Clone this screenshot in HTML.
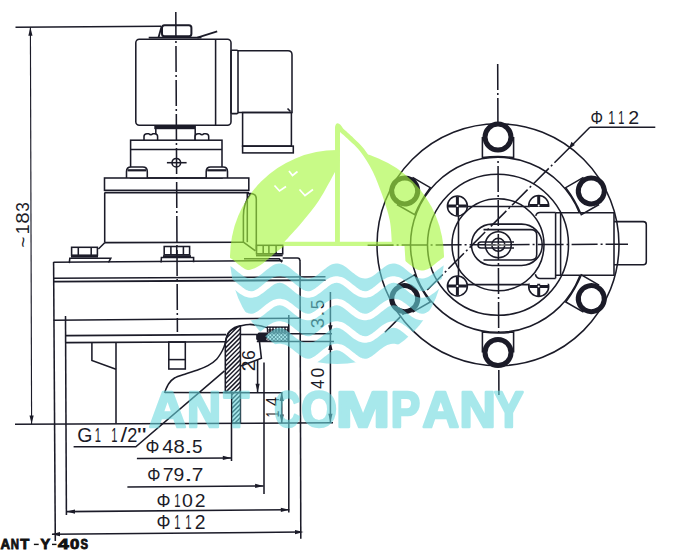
<!DOCTYPE html>
<html><head><meta charset="utf-8"><style>
html,body{margin:0;padding:0;background:#fff;overflow:hidden;}
svg{display:block;}
text{font-family:"Liberation Sans",sans-serif;fill:#1b1b28;}
</style></head><body>
<svg width="674" height="552" viewBox="0 0 674 552">
<defs>
<pattern id="dots" patternUnits="userSpaceOnUse" width="3" height="3"><rect width="3" height="3" fill="#1b1b28"/><circle cx="1.5" cy="1.5" r="0.9" fill="#fff"/></pattern>
<pattern id="xh" patternUnits="userSpaceOnUse" width="2.6" height="2.6" patternTransform="rotate(45)"><rect width="2.6" height="2.6" fill="#fff"/><path d="M0,0 L0,2.6 M0,0 L2.6,0" stroke="#1b1b28" stroke-width="1.3"/></pattern>
<pattern id="hatch" patternUnits="userSpaceOnUse" width="2.4" height="2.4" patternTransform="rotate(45)">
<rect width="2.4" height="2.4" fill="#fff"/><line x1="0.6" y1="0" x2="0.6" y2="2.4" stroke="#1b1b28" stroke-width="1.2"/>
</pattern>
</defs>
<rect width="674" height="552" fill="#fff"/>
<g fill="none" stroke="#1b1b28" stroke-width="1.55">
<line x1="15.5" y1="27.3" x2="161.0" y2="26.3"/>
<line x1="30.4" y1="27.0" x2="31.6" y2="424.0" stroke-width="1.15"/>
<polygon points="30.4,27.3 28.3,35.8 32.5,35.8" fill="#1b1b28" stroke="none"/>
<polygon points="31.6,424.0 29.5,415.5 33.7,415.5" fill="#1b1b28" stroke="none"/>
<line x1="15.0" y1="424.3" x2="333.0" y2="422.8"/>
<line x1="175.8" y1="12.0" x2="177.4" y2="332.0" stroke-dasharray="26 3 2 3"/>
<rect x="162" y="25.2" width="29.4" height="11" rx="2.5" stroke-width="2"/>
<line x1="158.5" y1="37.6" x2="161.6" y2="26.5" stroke-width="1.8"/>
<line x1="148.7" y1="37.6" x2="201.4" y2="37.6" stroke-width="1.8"/>
<line x1="197.4" y1="37.6" x2="217.2" y2="31.4" stroke-width="1.8"/>
<rect x="135.8" y="39.2" width="95.2" height="86" rx="3.5"/>
<line x1="215.6" y1="39.2" x2="215.6" y2="125.2"/>
<rect x="231" y="50.3" width="7" height="63.3" rx="1"/>
<path d="M238,50.8 L288,50.8 Q292,50.8 292,54.8 L292,112.5 L238,112.5"/>
<rect x="242.6" y="112.5" width="48.8" height="33.6"/>
<rect x="242.6" y="146.1" width="50.7" height="6.8"/>
<line x1="287.5" y1="108.5" x2="290.5" y2="111.5"/>
<rect x="154.3" y="125.4" width="41.6" height="3.8" fill="#1b1b28" stroke="none"/>
<line x1="155.8" y1="129.0" x2="155.8" y2="140.2"/>
<line x1="195.2" y1="129.0" x2="195.2" y2="140.2"/>
<path d="M144.0,140.2 L144.0,136.6 Q144.0,133.7 147.0,133.7 L148.8,133.7 Q150.8,135.6 152.8,133.7 L154.6,133.7 Q157.6,133.7 157.6,136.6 L157.6,140.2" fill="#fff"/>
<path d="M195.1,140.2 L195.1,136.6 Q195.1,133.7 198.1,133.7 L199.9,133.7 Q201.9,135.6 203.9,133.7 L205.7,133.7 Q208.7,133.7 208.7,136.6 L208.7,140.2" fill="#fff"/>
<rect x="130.6" y="140.2" width="91.4" height="37.8"/>
<line x1="130.6" y1="149.4" x2="222.0" y2="149.4"/>
<circle cx="176.3" cy="162.7" r="4.3"/>
<line x1="166.9" y1="162.7" x2="186.6" y2="162.7"/>
<path d="M126.5,178 L126.5,171.5 Q126.5,167 131.0,167 L142.8,167 Q147.3,167 147.3,171.5 L147.3,178" fill="#fff"/>
<line x1="127.5" y1="170.3" x2="146.3" y2="170.3" stroke-width="2.2"/>
<path d="M206.2,178 L206.2,171.5 Q206.2,167 210.7,167 L223.0,167 Q227.5,167 227.5,171.5 L227.5,178" fill="#fff"/>
<line x1="207.2" y1="170.3" x2="226.5" y2="170.3" stroke-width="2.2"/>
<rect x="104.5" y="178" width="144.3" height="12.3"/>
<line x1="104.5" y1="192.6" x2="249.0" y2="192.6"/>
<line x1="104.7" y1="192.6" x2="104.7" y2="242.7"/>
<line x1="247.3" y1="192.6" x2="247.3" y2="242.2"/>
<line x1="104.7" y1="242.6" x2="243.4" y2="242.2"/>
<line x1="104.7" y1="242.7" x2="98.4" y2="249.0"/>
<path d="M247.3,193.6 L251,193.6 Q256.3,194 256.3,199 L256.3,251"/>
<path d="M250.5,194 Q243.2,204 243.4,216 L243.4,242.2 L255.4,250.8"/>
<rect x="71.6" y="247.3" width="25.8" height="7.9"/>
<line x1="78.3" y1="247.3" x2="78.3" y2="255.2"/>
<line x1="91.2" y1="247.3" x2="91.2" y2="255.2"/>
<line x1="71.0" y1="256.6" x2="98.0" y2="256.6" stroke-width="2"/>
<path d="M69.3,263.2 L69.8,258.2 L110.8,258.2 L108.5,262.5"/>
<rect x="164.2" y="246.5" width="25.4" height="8.3"/>
<line x1="170.9" y1="246.5" x2="170.9" y2="254.8"/>
<line x1="176.7" y1="246.5" x2="176.7" y2="254.8"/>
<line x1="183.4" y1="246.5" x2="183.4" y2="254.8"/>
<line x1="163.0" y1="256.2" x2="191.0" y2="256.2" stroke-width="2"/>
<path d="M161.1,262.5 L161.4,257.4 L193.6,257.4 L193.6,262.3"/>
<rect x="256.5" y="245.3" width="26.2" height="8.5"/>
<line x1="263.2" y1="245.3" x2="263.2" y2="253.8"/>
<line x1="268.9" y1="245.3" x2="268.9" y2="253.8"/>
<line x1="276.1" y1="245.3" x2="276.1" y2="253.8"/>
<line x1="256.0" y1="255.4" x2="282.7" y2="255.4" stroke-width="2"/>
<path d="M244,258.8 L279.2,258.8 L282,262.2"/>
<line x1="53.5" y1="262.3" x2="282.7" y2="260.6"/>
<path d="M282.7,258 L297.5,258 Q299.8,258 299.8,260.5"/>
<line x1="53.6" y1="262.0" x2="55.3" y2="541.0"/>
<line x1="300.0" y1="260.0" x2="300.8" y2="538.8"/>
<line x1="53.5" y1="278.3" x2="325.5" y2="276.8"/>
<line x1="53.5" y1="281.6" x2="325.5" y2="280.1" stroke-width="1.8"/>
<line x1="53.5" y1="320.2" x2="300.6" y2="318.2"/>
<line x1="66.0" y1="335.6" x2="226.0" y2="334.6"/>
<line x1="66.0" y1="342.6" x2="226.0" y2="341.8"/>
<line x1="65.5" y1="316.0" x2="66.4" y2="515.0"/>
<path d="M91.9,342.5 L91.9,360.5 L116,369.3"/>
<line x1="116.0" y1="342.5" x2="116.0" y2="423.8"/>
<rect x="168.8" y="342" width="16.5" height="27"/>
<line x1="168.8" y1="359.6" x2="185.3" y2="359.6"/>
<path d="M164.40,392.80 C165.12,391.30 167.02,386.27 168.70,383.80 C170.38,381.33 171.60,379.68 174.50,378.00 C177.40,376.32 182.23,375.03 186.10,373.70 C189.97,372.37 194.07,371.33 197.70,370.00 C201.33,368.67 204.75,367.50 207.90,365.70 C211.05,363.90 214.18,361.73 216.60,359.20 C219.02,356.67 220.95,353.17 222.40,350.50 C223.85,347.83 224.58,345.38 225.30,343.20 C226.02,341.02 225.98,339.33 226.70,337.40 C227.42,335.47 228.15,333.17 229.60,331.60 C231.05,330.03 233.47,328.97 235.40,328.00 C237.33,327.03 238.83,326.40 241.20,325.80 C243.57,325.20 246.75,324.43 249.60,324.40 C252.45,324.37 255.33,325.07 258.30,325.60 C261.27,326.13 265.88,327.27 267.40,327.60"/>
<line x1="165.0" y1="392.5" x2="282.5" y2="392.8"/>
<clipPath id="hc"><path d="M240.4,325.8 L240.4,423 L231.7,423 L231.7,392.5 L225.3,392.5 L225.3,343.2 C225.8,338 227.5,333 230,331 C232.5,328.5 236,326.5 240.4,325.8 Z"/></clipPath>
<path d="M220,300.00 L250,270.00 M220,304.45 L250,274.45 M220,308.90 L250,278.90 M220,313.35 L250,283.35 M220,317.80 L250,287.80 M220,322.25 L250,292.25 M220,326.70 L250,296.70 M220,331.15 L250,301.15 M220,335.60 L250,305.60 M220,340.05 L250,310.05 M220,344.50 L250,314.50 M220,348.95 L250,318.95 M220,353.40 L250,323.40 M220,357.85 L250,327.85 M220,362.30 L250,332.30 M220,366.75 L250,336.75 M220,371.20 L250,341.20 M220,375.65 L250,345.65 M220,380.10 L250,350.10 M220,384.55 L250,354.55 M220,389.00 L250,359.00 M220,393.45 L250,363.45 M220,397.90 L250,367.90 M220,402.35 L250,372.35 M220,406.80 L250,376.80 M220,411.25 L250,381.25 M220,415.70 L250,385.70 M220,420.15 L250,390.15 M220,424.60 L250,394.60 M220,429.05 L250,399.05 M220,433.50 L250,403.50 M220,437.95 L250,407.95 M220,442.40 L250,412.40 M220,446.85 L250,416.85" stroke-width="1.45" clip-path="url(#hc)"/>
<path d="M240.4,325.8 L240.4,423 L231.7,423 L231.7,392.5 L225.3,392.5 L225.3,343.2 C225.8,338 227.5,333 230,331 C232.5,328.5 236,326.5 240.4,325.8 Z"/>
<line x1="240.4" y1="334.5" x2="257.0" y2="334.5"/>
<rect x="267.4" y="327" width="20.8" height="5" fill="url(#dots)" stroke-width="1.2"/>
<path d="M259,333 L288.2,333 L288.2,341.3 L259,341.3 L256.8,339 L256.8,335 Z" fill="url(#xh)" stroke-width="1.2"/>
<path d="M259,333 L268,333 L266,341.3 L259,341.3 L256.8,339 L256.8,335 Z" fill="#1b1b28" stroke="none"/>
<line x1="288.2" y1="333.8" x2="332.0" y2="333.8"/>
<line x1="256.8" y1="341.5" x2="334.0" y2="341.5"/>
<path d="M259.5,341.8 L261.4,358.3 L240.7,366"/>
<line x1="288.8" y1="315.0" x2="288.8" y2="512.5"/>
<line x1="264.0" y1="362.5" x2="264.0" y2="494.0"/>
<line x1="231.5" y1="423.0" x2="231.5" y2="461.0"/>
<line x1="257.6" y1="360.0" x2="257.6" y2="392.0"/>
<polygon points="257.6,392.3 255.5,383.8 259.7,383.8" fill="#1b1b28" stroke="none"/>
<line x1="281.7" y1="392.3" x2="281.7" y2="423.0"/>
<polygon points="281.7,392.5 279.6,401.0 283.8,401.0" fill="#1b1b28" stroke="none"/>
<polygon points="281.7,423.0 279.6,414.5 283.8,414.5" fill="#1b1b28" stroke="none"/>
<line x1="330.4" y1="292.0" x2="330.4" y2="422.5"/>
<polygon points="330.4,333.8 328.3,325.3 332.5,325.3" fill="#1b1b28" stroke="none"/>
<polygon points="330.4,341.5 328.3,350.0 332.5,350.0" fill="#1b1b28" stroke="none"/>
<polygon points="330.4,422.3 328.3,413.8 332.5,413.8" fill="#1b1b28" stroke="none"/>
<path d="M73.6,446.8 L135.8,446.8 L224.5,370.8"/>
<line x1="136.9" y1="458.5" x2="231.3" y2="457.9"/>
<polygon points="231.3,457.9 222.8,455.8 222.8,460.0" fill="#1b1b28" stroke="none"/>
<line x1="127.4" y1="486.9" x2="263.6" y2="485.9"/>
<polygon points="263.6,485.9 255.1,483.8 255.1,488.0" fill="#1b1b28" stroke="none"/>
<line x1="66.3" y1="511.6" x2="289.3" y2="509.8"/>
<polygon points="66.5,511.6 75.0,509.5 75.0,513.7" fill="#1b1b28" stroke="none"/>
<polygon points="289.3,509.8 280.8,507.7 280.8,511.9" fill="#1b1b28" stroke="none"/>
<line x1="52.0" y1="534.2" x2="301.0" y2="532.1"/>
<polygon points="51.5,534.2 60.0,532.1 60.0,536.3" fill="#1b1b28" stroke="none"/>
<polygon points="303.5,532.1 295.0,530.0 295.0,534.2" fill="#1b1b28" stroke="none"/>
<line x1="497.7" y1="64.0" x2="498.9" y2="395.0" stroke-dasharray="26 3 2 3"/>
<line x1="367.6" y1="245.2" x2="628.0" y2="244.2" stroke-dasharray="26 3 2 3"/>
<line x1="589.9" y1="127.3" x2="570.0" y2="147.2"/>
<line x1="570" y1="147.2" x2="385" y2="332.2" stroke-dasharray="22 3 2 3"/>
<polygon points="568.5,149.2 571.5,141.8 574.8,145.1" fill="#1b1b28" stroke="none"/>
<line x1="589.9" y1="127.3" x2="655.3" y2="127.3"/>
<clipPath id="cc"><path d="M0,0 H674 V552 H0 Z M555.4,213 V275.5 H614 V213 Z" clip-rule="evenodd"/></clipPath>
<circle cx="498.0" cy="244.8" r="121.0"/>
<circle cx="498.0" cy="244.8" r="87.5" clip-path="url(#cc)"/>
<circle cx="498.0" cy="244.8" r="70.5"/>
<circle cx="498.0" cy="244.8" r="46.0"/>
<g transform="translate(498.00,137.10) rotate(0.00)">
<path d="M-15.6,0 L-15.6,20.5 Q0,18.5 15.6,20.5 L15.6,0" fill="#fff"/>
<circle cx="0" cy="0" r="13" stroke-width="5" fill="#fff"/>
</g>
<g transform="translate(404.73,190.95) rotate(-60.00)">
<path d="M-15.6,0 L-15.6,20.5 Q0,18.5 15.6,20.5 L15.6,0" fill="#fff"/>
<circle cx="0" cy="0" r="13" stroke-width="5" fill="#fff"/>
</g>
<g transform="translate(404.73,298.65) rotate(-120.00)">
<path d="M-15.6,0 L-15.6,20.5 Q0,18.5 15.6,20.5 L15.6,0" fill="#fff"/>
<circle cx="0" cy="0" r="13" stroke-width="5" fill="#fff"/>
</g>
<g transform="translate(498.00,352.50) rotate(-180.00)">
<path d="M-15.6,0 L-15.6,20.5 Q0,18.5 15.6,20.5 L15.6,0" fill="#fff"/>
<circle cx="0" cy="0" r="13" stroke-width="5" fill="#fff"/>
</g>
<g transform="translate(591.27,298.65) rotate(-240.00)">
<path d="M-15.6,0 L-15.6,20.5 Q0,18.5 15.6,20.5 L15.6,0" fill="#fff"/>
<circle cx="0" cy="0" r="13" stroke-width="5" fill="#fff"/>
</g>
<g transform="translate(591.27,190.95) rotate(60.00)">
<path d="M-15.6,0 L-15.6,20.5 Q0,18.5 15.6,20.5 L15.6,0" fill="#fff"/>
<circle cx="0" cy="0" r="13" stroke-width="5" fill="#fff"/>
</g>
<path d="M467,206.4 L530,206.4 M458.5,214 L458.5,277 M467,284.6 L530,284.6"/>
<path d="M555.6,212.8 L614,212.8 L614,275.3 L555.6,275.3"/>
<line x1="555.6" y1="212.5" x2="555.6" y2="278.4"/>
<line x1="560.6" y1="212.8" x2="560.6" y2="275.3"/>
<path d="M614,221.6 L643.3,221.6 Q646.3,221.6 646.3,224.6 L646.3,261.7 Q646.3,264.7 643.3,264.7 L614,264.7"/>
<rect x="471.5" y="224.1" width="70.7" height="41.3" rx="20.6"/>
<path d="M483.5,229.6 L531,229.6 Q536.7,229.6 536.7,235 L536.7,254.6 Q536.7,260 531,260 L483.5,260"/>
<circle cx="498.3" cy="244.8" r="13"/>
<circle cx="498.3" cy="244.8" r="6.5"/>
<path d="M514,242 L481,242 Q478,242 478,245 Q478,248 481,248 L514,248"/>
<line x1="486.0" y1="245.0" x2="510.0" y2="245.0" stroke="#777" stroke-width="1.5"/>
<clipPath id="scu"><rect x="520" y="180" width="40" height="27"/></clipPath>
<clipPath id="scd"><rect x="520" y="283.8" width="40" height="30"/></clipPath>
<g>
<circle cx="457.4" cy="206.0" r="10" fill="#fff"/>
<path d="M447.9,206.0 L466.9,206.0 M457.4,196.5 L457.4,215.5" stroke-width="3"/>
<circle cx="457.4" cy="206.0" r="1" fill="#fff" stroke="none"/>
</g>
<g clip-path="url(#scu)">
<circle cx="538.7" cy="205.5" r="10" fill="#fff"/>
<path d="M529.2,205.5 L548.2,205.5 M538.7,196.0 L538.7,215.0" stroke-width="3"/>
<circle cx="538.7" cy="205.5" r="1" fill="#fff" stroke="none"/>
</g>
<g>
<circle cx="457.4" cy="286.0" r="10" fill="#fff"/>
<path d="M447.9,286.0 L466.9,286.0 M457.4,276.5 L457.4,295.5" stroke-width="3"/>
<circle cx="457.4" cy="286.0" r="1" fill="#fff" stroke="none"/>
</g>
<g clip-path="url(#scd)">
<circle cx="538.7" cy="286.5" r="10" fill="#fff"/>
<path d="M529.2,286.5 L548.2,286.5 M538.7,277.0 L538.7,296.0" stroke-width="3"/>
<circle cx="538.7" cy="286.5" r="1" fill="#fff" stroke="none"/>
</g>
<path d="M535.8,215.8 Q536.5,212.5 540,212.5 L555.6,212.5"/>
<path d="M535.3,274.2 Q536.5,278.4 540,278.4 L555.6,278.4"/>
</g>
<text transform="translate(77.13,442.20) scale(1.0040,1)" font-size="19.40">G</text>
<text transform="translate(94.65,442.20) scale(0.5754,1)" font-size="19.40">1</text>
<text transform="translate(111.25,442.20) scale(0.5754,1)" font-size="19.40">1</text>
<text transform="translate(120.40,442.20) scale(1.2282,1)" font-size="19.40">/</text>
<text transform="translate(127.29,442.20) scale(0.9403,1)" font-size="19.40">2</text>
<text transform="translate(137.04,442.20) scale(1.3848,1)" font-size="19.40">&quot;</text>
<text transform="translate(145.51,453.40) scale(0.9170,1)" font-size="19.00">Φ</text>
<text transform="translate(162.14,453.40) scale(1.0464,1)" font-size="19.00">4</text>
<text transform="translate(173.53,453.40) scale(1.0661,1)" font-size="19.00">8</text>
<text transform="translate(184.03,453.40) scale(1.6620,1)" font-size="19.00">.</text>
<text transform="translate(192.05,453.40) scale(0.9903,1)" font-size="19.00">5</text>
<text transform="translate(147.36,481.30) scale(0.8708,1)" font-size="19.00">Φ</text>
<text transform="translate(162.70,481.30) scale(1.0318,1)" font-size="19.00">7</text>
<text transform="translate(173.49,481.30) scale(1.0161,1)" font-size="19.00">9</text>
<text transform="translate(184.03,481.30) scale(1.6620,1)" font-size="19.00">.</text>
<text transform="translate(191.73,481.30) scale(1.1013,1)" font-size="19.00">7</text>
<text transform="translate(156.60,506.60) scale(0.9151,1)" font-size="19.20">Φ</text>
<text transform="translate(174.35,506.60) scale(0.5814,1)" font-size="19.20">1</text>
<text transform="translate(182.04,506.60) scale(1.0155,1)" font-size="19.20">0</text>
<text transform="translate(194.73,506.60) scale(1.0073,1)" font-size="19.20">2</text>
<text transform="translate(156.60,529.00) scale(0.9056,1)" font-size="19.40">Φ</text>
<text transform="translate(174.35,529.00) scale(0.5754,1)" font-size="19.40">1</text>
<text transform="translate(185.13,529.00) scale(0.5874,1)" font-size="19.40">1</text>
<text transform="translate(194.73,529.00) scale(0.9969,1)" font-size="19.40">2</text>
<text transform="translate(590.41,124.20) scale(0.8245,1)" font-size="19.00">Φ</text>
<text transform="translate(608.16,124.20) scale(0.6487,1)" font-size="19.00">1</text>
<text transform="translate(618.37,124.20) scale(0.5753,1)" font-size="19.00">1</text>
<text transform="translate(628.32,124.20) scale(1.0295,1)" font-size="19.00">2</text>
<text transform="translate(28.75,246.70) rotate(-90) scale(0.9715,1)" x="-0.85" font-size="19.00">~</text>
<text transform="translate(28.75,233.00) rotate(-90) scale(0.9302,1)" x="-1.44" font-size="19.00">1</text>
<text transform="translate(28.75,222.90) rotate(-90) scale(1.0885,1)" x="-0.82" font-size="19.00">8</text>
<text transform="translate(28.75,211.20) rotate(-90) scale(0.9013,1)" x="-0.72" font-size="19.00">3</text>
<text transform="translate(323.90,327.50) rotate(-90) scale(0.9580,1)" x="-0.73" font-size="19.20">3</text>
<text transform="translate(323.90,314.80) rotate(-90) scale(1.2061,1)" x="-1.75" font-size="19.20">.</text>
<text transform="translate(323.90,308.70) rotate(-90) scale(0.8809,1)" x="-0.77" font-size="19.20">5</text>
<text transform="translate(324.30,388.60) rotate(-90) scale(0.8594,1)" x="-0.44" font-size="19.20">4</text>
<text transform="translate(324.30,376.70) rotate(-90) scale(0.9172,1)" x="-0.75" font-size="19.20">0</text>
<text transform="translate(254.90,370.30) rotate(-90) scale(1.0171,1)" x="-0.94" font-size="18.80">2</text>
<text transform="translate(254.90,359.00) rotate(-90) scale(0.9482,1)" x="-0.96" font-size="18.80">6</text>
<text transform="translate(279.40,416.70) rotate(-90) scale(0.6794,1)" x="-1.35" font-size="17.80">1</text>
<text transform="translate(279.40,405.70) rotate(-90) scale(0.9159,1)" x="-0.41" font-size="17.80">4</text>

<defs>
<clipPath id="lc"><circle cx="337.0" cy="257.0" r="107.0"/></clipPath>
<mask id="cm" maskUnits="userSpaceOnUse" x="0" y="0" width="674" height="552">
  <rect x="0" y="0" width="674" height="552" fill="#000"/>
  <path d="M225.0,263.8 L226.5,264.2 L228.0,264.8 L229.5,265.6 L231.0,266.6 L232.5,267.6 L234.0,268.8 L235.5,270.0 L237.0,271.2 L238.5,272.4 L240.0,273.6 L241.5,274.8 L243.0,275.8 L244.5,276.7 L246.0,277.4 L247.5,277.9 L249.0,278.3 L250.5,278.5 L252.0,278.5 L253.5,278.2 L255.0,277.8 L256.5,277.2 L258.0,276.4 L259.5,275.4 L261.0,274.4 L262.5,273.2 L264.0,272.0 L265.5,270.8 L267.0,269.6 L268.5,268.4 L270.0,267.2 L271.5,266.2 L273.0,265.3 L274.5,264.6 L276.0,264.1 L277.5,263.7 L279.0,263.5 L280.5,263.5 L282.0,263.8 L283.5,264.2 L285.0,264.8 L286.5,265.6 L288.0,266.6 L289.5,267.6 L291.0,268.8 L292.5,270.0 L294.0,271.2 L295.5,272.4 L297.0,273.6 L298.5,274.8 L300.0,275.8 L301.5,276.7 L303.0,277.4 L304.5,277.9 L306.0,278.3 L307.5,278.5 L309.0,278.5 L310.5,278.2 L312.0,277.8 L313.5,277.2 L315.0,276.4 L316.5,275.4 L318.0,274.4 L319.5,273.2 L321.0,272.0 L322.5,270.8 L324.0,269.6 L325.5,268.4 L327.0,267.2 L328.5,266.2 L330.0,265.3 L331.5,264.6 L333.0,264.1 L334.5,263.7 L336.0,263.5 L337.5,263.5 L339.0,263.8 L340.5,264.2 L342.0,264.8 L343.5,265.6 L345.0,266.6 L346.5,267.6 L348.0,268.8 L349.5,270.0 L351.0,271.2 L352.5,272.4 L354.0,273.6 L355.5,274.8 L357.0,275.8 L358.5,276.7 L360.0,277.4 L361.5,277.9 L363.0,278.3 L364.5,278.5 L366.0,278.5 L367.5,278.2 L369.0,277.8 L370.5,277.2 L372.0,276.4 L373.5,275.4 L375.0,274.4 L376.5,273.2 L378.0,272.0 L379.5,270.8 L381.0,269.6 L382.5,268.4 L384.0,267.2 L385.5,266.2 L387.0,265.3 L388.5,264.6 L390.0,264.1 L391.5,263.7 L393.0,263.5 L394.5,263.5 L396.0,263.8 L397.5,264.2 L399.0,264.8 L400.5,265.6 L402.0,266.6 L403.5,267.6 L405.0,268.8 L406.5,270.0 L408.0,271.2 L409.5,272.4 L411.0,273.6 L412.5,274.8 L414.0,275.8 L415.5,276.7 L417.0,277.4 L418.5,277.9 L420.0,278.3 L421.5,278.5 L423.0,278.5 L424.5,278.2 L426.0,277.8 L427.5,277.2 L429.0,276.4 L430.5,275.4 L432.0,274.4 L433.5,273.2 L435.0,272.0 L436.5,270.8 L438.0,269.6 L439.5,268.4 L441.0,267.2 L442.5,266.2 L444.0,265.3 L445.5,264.6 L447.0,264.1 L448.5,263.7 L450.0,263.5 L450,380 L225,380 Z" fill="#fff" clip-path="url(#lc)"/>
  <polyline points="225.0,279.8 226.5,280.2 228.0,280.8 229.5,281.6 231.0,282.6 232.5,283.6 234.0,284.8 235.5,286.0 237.0,287.2 238.5,288.4 240.0,289.6 241.5,290.8 243.0,291.8 244.5,292.7 246.0,293.4 247.5,293.9 249.0,294.3 250.5,294.5 252.0,294.5 253.5,294.2 255.0,293.8 256.5,293.2 258.0,292.4 259.5,291.4 261.0,290.4 262.5,289.2 264.0,288.0 265.5,286.8 267.0,285.6 268.5,284.4 270.0,283.2 271.5,282.2 273.0,281.3 274.5,280.6 276.0,280.1 277.5,279.7 279.0,279.5 280.5,279.5 282.0,279.8 283.5,280.2 285.0,280.8 286.5,281.6 288.0,282.6 289.5,283.6 291.0,284.8 292.5,286.0 294.0,287.2 295.5,288.4 297.0,289.6 298.5,290.8 300.0,291.8 301.5,292.7 303.0,293.4 304.5,293.9 306.0,294.3 307.5,294.5 309.0,294.5 310.5,294.2 312.0,293.8 313.5,293.2 315.0,292.4 316.5,291.4 318.0,290.4 319.5,289.2 321.0,288.0 322.5,286.8 324.0,285.6 325.5,284.4 327.0,283.2 328.5,282.2 330.0,281.3 331.5,280.6 333.0,280.1 334.5,279.7 336.0,279.5 337.5,279.5 339.0,279.8 340.5,280.2 342.0,280.8 343.5,281.6 345.0,282.6 346.5,283.6 348.0,284.8 349.5,286.0 351.0,287.2 352.5,288.4 354.0,289.6 355.5,290.8 357.0,291.8 358.5,292.7 360.0,293.4 361.5,293.9 363.0,294.3 364.5,294.5 366.0,294.5 367.5,294.2 369.0,293.8 370.5,293.2 372.0,292.4 373.5,291.4 375.0,290.4 376.5,289.2 378.0,288.0 379.5,286.8 381.0,285.6 382.5,284.4 384.0,283.2 385.5,282.2 387.0,281.3 388.5,280.6 390.0,280.1 391.5,279.7 393.0,279.5 394.5,279.5 396.0,279.8 397.5,280.2 399.0,280.8 400.5,281.6 402.0,282.6 403.5,283.6 405.0,284.8 406.5,286.0 408.0,287.2 409.5,288.4 411.0,289.6 412.5,290.8 414.0,291.8 415.5,292.7 417.0,293.4 418.5,293.9 420.0,294.3 421.5,294.5 423.0,294.5 424.5,294.2 426.0,293.8 427.5,293.2 429.0,292.4 430.5,291.4 432.0,290.4 433.5,289.2 435.0,288.0 436.5,286.8 438.0,285.6 439.5,284.4 441.0,283.2 442.5,282.2 444.0,281.3 445.5,280.6 447.0,280.1 448.5,279.7 450.0,279.5" fill="none" stroke="#000" stroke-width="6.5"/><polyline points="225.0,302.3 226.5,302.7 228.0,303.3 229.5,304.1 231.0,305.1 232.5,306.1 234.0,307.3 235.5,308.5 237.0,309.7 238.5,310.9 240.0,312.1 241.5,313.2 243.0,314.3 244.5,315.2 246.0,315.9 247.5,316.4 249.0,316.8 250.5,317.0 252.0,317.0 253.5,316.7 255.0,316.3 256.5,315.7 258.0,314.9 259.5,313.9 261.0,312.9 262.5,311.7 264.0,310.5 265.5,309.3 267.0,308.1 268.5,306.9 270.0,305.8 271.5,304.7 273.0,303.8 274.5,303.1 276.0,302.6 277.5,302.2 279.0,302.0 280.5,302.0 282.0,302.3 283.5,302.7 285.0,303.3 286.5,304.1 288.0,305.1 289.5,306.1 291.0,307.3 292.5,308.5 294.0,309.7 295.5,310.9 297.0,312.1 298.5,313.2 300.0,314.3 301.5,315.2 303.0,315.9 304.5,316.4 306.0,316.8 307.5,317.0 309.0,317.0 310.5,316.7 312.0,316.3 313.5,315.7 315.0,314.9 316.5,313.9 318.0,312.9 319.5,311.7 321.0,310.5 322.5,309.3 324.0,308.1 325.5,306.9 327.0,305.8 328.5,304.7 330.0,303.8 331.5,303.1 333.0,302.6 334.5,302.2 336.0,302.0 337.5,302.0 339.0,302.3 340.5,302.7 342.0,303.3 343.5,304.1 345.0,305.1 346.5,306.1 348.0,307.3 349.5,308.5 351.0,309.7 352.5,310.9 354.0,312.1 355.5,313.2 357.0,314.3 358.5,315.2 360.0,315.9 361.5,316.4 363.0,316.8 364.5,317.0 366.0,317.0 367.5,316.7 369.0,316.3 370.5,315.7 372.0,314.9 373.5,313.9 375.0,312.9 376.5,311.7 378.0,310.5 379.5,309.3 381.0,308.1 382.5,306.9 384.0,305.8 385.5,304.7 387.0,303.8 388.5,303.1 390.0,302.6 391.5,302.2 393.0,302.0 394.5,302.0 396.0,302.3 397.5,302.7 399.0,303.3 400.5,304.1 402.0,305.1 403.5,306.1 405.0,307.3 406.5,308.5 408.0,309.7 409.5,310.9 411.0,312.1 412.5,313.2 414.0,314.3 415.5,315.2 417.0,315.9 418.5,316.4 420.0,316.8 421.5,317.0 423.0,317.0 424.5,316.7 426.0,316.3 427.5,315.7 429.0,314.9 430.5,313.9 432.0,312.9 433.5,311.7 435.0,310.5 436.5,309.3 438.0,308.1 439.5,306.9 441.0,305.8 442.5,304.7 444.0,303.8 445.5,303.1 447.0,302.6 448.5,302.2 450.0,302.0" fill="none" stroke="#000" stroke-width="6.5"/><polyline points="225.0,324.8 226.5,325.2 228.0,325.8 229.5,326.6 231.0,327.6 232.5,328.6 234.0,329.8 235.5,331.0 237.0,332.2 238.5,333.4 240.0,334.6 241.5,335.8 243.0,336.8 244.5,337.7 246.0,338.4 247.5,338.9 249.0,339.3 250.5,339.5 252.0,339.5 253.5,339.2 255.0,338.8 256.5,338.2 258.0,337.4 259.5,336.4 261.0,335.4 262.5,334.2 264.0,333.0 265.5,331.8 267.0,330.6 268.5,329.4 270.0,328.2 271.5,327.2 273.0,326.3 274.5,325.6 276.0,325.1 277.5,324.7 279.0,324.5 280.5,324.5 282.0,324.8 283.5,325.2 285.0,325.8 286.5,326.6 288.0,327.6 289.5,328.6 291.0,329.8 292.5,331.0 294.0,332.2 295.5,333.4 297.0,334.6 298.5,335.8 300.0,336.8 301.5,337.7 303.0,338.4 304.5,338.9 306.0,339.3 307.5,339.5 309.0,339.5 310.5,339.2 312.0,338.8 313.5,338.2 315.0,337.4 316.5,336.4 318.0,335.4 319.5,334.2 321.0,333.0 322.5,331.8 324.0,330.6 325.5,329.4 327.0,328.2 328.5,327.2 330.0,326.3 331.5,325.6 333.0,325.1 334.5,324.7 336.0,324.5 337.5,324.5 339.0,324.8 340.5,325.2 342.0,325.8 343.5,326.6 345.0,327.6 346.5,328.6 348.0,329.8 349.5,331.0 351.0,332.2 352.5,333.4 354.0,334.6 355.5,335.8 357.0,336.8 358.5,337.7 360.0,338.4 361.5,338.9 363.0,339.3 364.5,339.5 366.0,339.5 367.5,339.2 369.0,338.8 370.5,338.2 372.0,337.4 373.5,336.4 375.0,335.4 376.5,334.2 378.0,333.0 379.5,331.8 381.0,330.6 382.5,329.4 384.0,328.2 385.5,327.2 387.0,326.3 388.5,325.6 390.0,325.1 391.5,324.7 393.0,324.5 394.5,324.5 396.0,324.8 397.5,325.2 399.0,325.8 400.5,326.6 402.0,327.6 403.5,328.6 405.0,329.8 406.5,331.0 408.0,332.2 409.5,333.4 411.0,334.6 412.5,335.8 414.0,336.8 415.5,337.7 417.0,338.4 418.5,338.9 420.0,339.3 421.5,339.5 423.0,339.5 424.5,339.2 426.0,338.8 427.5,338.2 429.0,337.4 430.5,336.4 432.0,335.4 433.5,334.2 435.0,333.0 436.5,331.8 438.0,330.6 439.5,329.4 441.0,328.2 442.5,327.2 444.0,326.3 445.5,325.6 447.0,325.1 448.5,324.7 450.0,324.5" fill="none" stroke="#000" stroke-width="6.5"/><polyline points="225.0,347.3 226.5,347.7 228.0,348.3 229.5,349.1 231.0,350.1 232.5,351.1 234.0,352.3 235.5,353.5 237.0,354.7 238.5,355.9 240.0,357.1 241.5,358.2 243.0,359.3 244.5,360.2 246.0,360.9 247.5,361.4 249.0,361.8 250.5,362.0 252.0,362.0 253.5,361.7 255.0,361.3 256.5,360.7 258.0,359.9 259.5,358.9 261.0,357.9 262.5,356.7 264.0,355.5 265.5,354.3 267.0,353.1 268.5,351.9 270.0,350.8 271.5,349.7 273.0,348.8 274.5,348.1 276.0,347.6 277.5,347.2 279.0,347.0 280.5,347.0 282.0,347.3 283.5,347.7 285.0,348.3 286.5,349.1 288.0,350.1 289.5,351.1 291.0,352.3 292.5,353.5 294.0,354.7 295.5,355.9 297.0,357.1 298.5,358.2 300.0,359.3 301.5,360.2 303.0,360.9 304.5,361.4 306.0,361.8 307.5,362.0 309.0,362.0 310.5,361.7 312.0,361.3 313.5,360.7 315.0,359.9 316.5,358.9 318.0,357.9 319.5,356.7 321.0,355.5 322.5,354.3 324.0,353.1 325.5,351.9 327.0,350.8 328.5,349.7 330.0,348.8 331.5,348.1 333.0,347.6 334.5,347.2 336.0,347.0 337.5,347.0 339.0,347.3 340.5,347.7 342.0,348.3 343.5,349.1 345.0,350.1 346.5,351.1 348.0,352.3 349.5,353.5 351.0,354.7 352.5,355.9 354.0,357.1 355.5,358.2 357.0,359.3 358.5,360.2 360.0,360.9 361.5,361.4 363.0,361.8 364.5,362.0 366.0,362.0 367.5,361.7 369.0,361.3 370.5,360.7 372.0,359.9 373.5,358.9 375.0,357.9 376.5,356.7 378.0,355.5 379.5,354.3 381.0,353.1 382.5,351.9 384.0,350.8 385.5,349.7 387.0,348.8 388.5,348.1 390.0,347.6 391.5,347.2 393.0,347.0 394.5,347.0 396.0,347.3 397.5,347.7 399.0,348.3 400.5,349.1 402.0,350.1 403.5,351.1 405.0,352.3 406.5,353.5 408.0,354.7 409.5,355.9 411.0,357.1 412.5,358.2 414.0,359.3 415.5,360.2 417.0,360.9 418.5,361.4 420.0,361.8 421.5,362.0 423.0,362.0 424.5,361.7 426.0,361.3 427.5,360.7 429.0,359.9 430.5,358.9 432.0,357.9 433.5,356.7 435.0,355.5 436.5,354.3 438.0,353.1 439.5,351.9 441.0,350.8 442.5,349.7 444.0,348.8 445.5,348.1 447.0,347.6 448.5,347.2 450.0,347.0" fill="none" stroke="#000" stroke-width="6.5"/>
</mask>
<mask id="gm" maskUnits="userSpaceOnUse" x="0" y="0" width="674" height="552">
  <rect x="0" y="0" width="674" height="552" fill="#000"/>
  <path d="M225,100 L450,100 L450,255.5 L450.0,255.5 L448.5,255.7 L447.0,256.1 L445.5,256.6 L444.0,257.3 L442.5,258.2 L441.0,259.2 L439.5,260.4 L438.0,261.6 L436.5,262.8 L435.0,264.0 L433.5,265.2 L432.0,266.4 L430.5,267.4 L429.0,268.4 L427.5,269.2 L426.0,269.8 L424.5,270.2 L423.0,270.5 L421.5,270.5 L420.0,270.3 L418.5,269.9 L417.0,269.4 L415.5,268.7 L414.0,267.8 L412.5,266.8 L411.0,265.6 L409.5,264.4 L408.0,263.2 L406.5,262.0 L405.0,260.8 L403.5,259.6 L402.0,258.6 L400.5,257.6 L399.0,256.8 L397.5,256.2 L396.0,255.8 L394.5,255.5 L393.0,255.5 L391.5,255.7 L390.0,256.1 L388.5,256.6 L387.0,257.3 L385.5,258.2 L384.0,259.2 L382.5,260.4 L381.0,261.6 L379.5,262.8 L378.0,264.0 L376.5,265.2 L375.0,266.4 L373.5,267.4 L372.0,268.4 L370.5,269.2 L369.0,269.8 L367.5,270.2 L366.0,270.5 L364.5,270.5 L363.0,270.3 L361.5,269.9 L360.0,269.4 L358.5,268.7 L357.0,267.8 L355.5,266.8 L354.0,265.6 L352.5,264.4 L351.0,263.2 L349.5,262.0 L348.0,260.8 L346.5,259.6 L345.0,258.6 L343.5,257.6 L342.0,256.8 L340.5,256.2 L339.0,255.8 L337.5,255.5 L336.0,255.5 L334.5,255.7 L333.0,256.1 L331.5,256.6 L330.0,257.3 L328.5,258.2 L327.0,259.2 L325.5,260.4 L324.0,261.6 L322.5,262.8 L321.0,264.0 L319.5,265.2 L318.0,266.4 L316.5,267.4 L315.0,268.4 L313.5,269.2 L312.0,269.8 L310.5,270.2 L309.0,270.5 L307.5,270.5 L306.0,270.3 L304.5,269.9 L303.0,269.4 L301.5,268.7 L300.0,267.8 L298.5,266.8 L297.0,265.6 L295.5,264.4 L294.0,263.2 L292.5,262.0 L291.0,260.8 L289.5,259.6 L288.0,258.6 L286.5,257.6 L285.0,256.8 L283.5,256.2 L282.0,255.8 L280.5,255.5 L279.0,255.5 L277.5,255.7 L276.0,256.1 L274.5,256.6 L273.0,257.3 L271.5,258.2 L270.0,259.2 L268.5,260.4 L267.0,261.6 L265.5,262.8 L264.0,264.0 L262.5,265.2 L261.0,266.4 L259.5,267.4 L258.0,268.4 L256.5,269.2 L255.0,269.8 L253.5,270.2 L252.0,270.5 L250.5,270.5 L249.0,270.3 L247.5,269.9 L246.0,269.4 L244.5,268.7 L243.0,267.8 L241.5,266.8 L240.0,265.6 L238.5,264.4 L237.0,263.2 L235.5,262.0 L234.0,260.8 L232.5,259.6 L231.0,258.6 L229.5,257.6 L228.0,256.8 L226.5,256.2 L225.0,255.8 Z" fill="#fff" clip-path="url(#lc)"/>
  <path d="M335,246 L335,127 Q335.6,123.2 337.6,123.2 Q340.5,123.5 343.09,128.59 C344.85,130.19 350.19,134.80 353.70,138.19 C357.20,141.59 360.25,143.80 364.09,148.95 C367.93,154.11 372.94,161.62 376.71,169.14 C380.49,176.66 383.83,185.74 386.74,194.08 C389.66,202.42 392.60,211.30 394.21,219.18 C395.81,227.06 396.02,237.66 396.38,241.36 L396.9,246 Z" fill="#fff"/>
  <path d="M284.50,246.00 C283.92,246.42 282.42,247.45 281.00,248.50 C279.58,249.55 277.83,250.80 276.00,252.30 C274.17,253.80 272.33,255.55 270.00,257.50 C267.67,259.45 264.55,262.22 262.00,264.00 C259.45,265.78 257.50,267.10 254.70,268.20 C251.90,269.30 248.37,270.63 245.20,270.60 C242.03,270.57 238.40,269.93 235.70,268.00 C233.00,266.07 230.12,260.50 229.00,259.00 L228,300 L405.5,300 L405.5,262 L404.5,246 Z" fill="#000"/>
  <path d="M284.50,241.80 C287.38,238.58 296.07,229.38 301.80,222.50 C307.53,215.62 313.37,208.92 318.90,200.50 C324.43,192.08 332.32,176.75 335.00,172.00 L335,241.8 Z" fill="#000"/>
  <path d="M340.00,132.00 C341.75,133.58 347.10,138.22 350.50,141.50 C353.90,144.78 356.72,146.75 360.40,151.70 C364.08,156.65 368.93,163.88 372.60,171.20 C376.27,178.52 379.55,187.45 382.40,195.60 C385.25,203.75 388.13,212.40 389.70,220.10 C391.27,227.80 391.45,238.18 391.80,241.80 L339.9,241.8 Z" fill="#000"/>
  <path d="M289,171 L292.5,175.5 L297.5,171.5 M274.5,185.5 L279.5,191 L286,186.5 M299.5,189.5 L305,195.5 L313,189.5" stroke="#000" stroke-width="1.7" fill="none"/>
</mask>
</defs>
<rect x="0" y="0" width="674" height="552" fill="rgba(166,247,61,0.62)" mask="url(#gm)"/>
<rect x="0" y="0" width="674" height="552" fill="rgba(105,216,222,0.58)" mask="url(#cm)"/>

<g opacity="0.58"><text transform="translate(148.91,426.70) scale(1.0405,1)" font-size="49.49" font-weight="bold" style="fill:rgb(105,216,222);stroke:rgb(105,216,222);stroke-width:2.60;stroke-linejoin:round">A</text><text transform="translate(187.04,426.70) scale(0.9535,1)" font-size="49.49" font-weight="bold" style="fill:rgb(105,216,222);stroke:rgb(105,216,222);stroke-width:2.60;stroke-linejoin:round">N</text><text transform="translate(223.44,426.70) scale(0.8488,1)" font-size="49.49" font-weight="bold" style="fill:rgb(105,216,222);stroke:rgb(105,216,222);stroke-width:2.60;stroke-linejoin:round">T</text><text transform="translate(274.32,426.70) scale(0.7272,1)" font-size="49.49" font-weight="bold" style="fill:rgb(105,216,222);stroke:rgb(105,216,222);stroke-width:2.60;stroke-linejoin:round">C</text><text transform="translate(301.22,426.70) scale(0.9259,1)" font-size="49.49" font-weight="bold" style="fill:rgb(105,216,222);stroke:rgb(105,216,222);stroke-width:2.60;stroke-linejoin:round">O</text><text transform="translate(335.82,426.70) scale(1.3200,1)" font-size="49.49" font-weight="bold" style="fill:rgb(105,216,222);stroke:rgb(105,216,222);stroke-width:2.60;stroke-linejoin:round">M</text><text transform="translate(390.65,426.70) scale(0.8905,1)" font-size="49.49" font-weight="bold" style="fill:rgb(105,216,222);stroke:rgb(105,216,222);stroke-width:2.60;stroke-linejoin:round">P</text><text transform="translate(422.54,426.70) scale(1.0224,1)" font-size="49.49" font-weight="bold" style="fill:rgb(105,216,222);stroke:rgb(105,216,222);stroke-width:2.60;stroke-linejoin:round">A</text><text transform="translate(459.53,426.70) scale(1.0155,1)" font-size="49.49" font-weight="bold" style="fill:rgb(105,216,222);stroke:rgb(105,216,222);stroke-width:2.60;stroke-linejoin:round">N</text><text transform="translate(494.26,426.70) scale(0.8842,1)" font-size="49.49" font-weight="bold" style="fill:rgb(105,216,222);stroke:rgb(105,216,222);stroke-width:2.60;stroke-linejoin:round">Y</text></g>
<text transform="translate(0.52,548.95) scale(0.8691,1)" font-size="15.28" font-weight="bold" style="fill:#111;stroke:#111;stroke-width:0.90">A</text><text transform="translate(10.79,548.95) scale(0.7468,1)" font-size="15.28" font-weight="bold" style="fill:#111;stroke:#111;stroke-width:0.90">N</text><text transform="translate(20.29,548.95) scale(0.9681,1)" font-size="15.28" font-weight="bold" style="fill:#111;stroke:#111;stroke-width:0.90">T</text><text transform="translate(40.40,548.95) scale(0.9509,1)" font-size="15.28" font-weight="bold" style="fill:#111;stroke:#111;stroke-width:0.90">Y</text><text transform="translate(57.96,548.95) scale(1.2719,1)" font-size="15.28" font-weight="bold" style="fill:#111;stroke:#111;stroke-width:0.90">4</text><text transform="translate(70.07,548.95) scale(1.1043,1)" font-size="15.28" font-weight="bold" style="fill:#111;stroke:#111;stroke-width:0.90">0</text><text transform="translate(80.52,548.95) scale(0.7440,1)" font-size="15.28" font-weight="bold" style="fill:#111;stroke:#111;stroke-width:0.90">S</text><rect x="33.9" y="543.7" width="4.8" height="1.4" fill="#111"/><rect x="52" y="543.7" width="4.5" height="1.4" fill="#111"/>
</svg>
</body></html>
